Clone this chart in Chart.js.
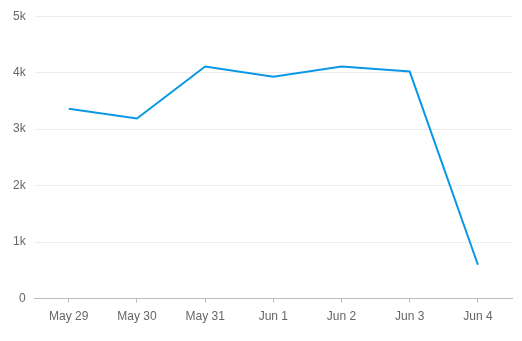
<!DOCTYPE html>
<html>
<head>
<meta charset="utf-8">
<script src="https://cdn.jsdelivr.net/npm/chart.js@4"></script>
<style>
html,body{margin:0;padding:0;background:#fff;}
#wrap{position:relative;width:522px;height:341px;}
</style>
</head>
<body>
<div id="wrap"><canvas id="c" width="522" height="341"></canvas></div>
<script>
const categories = ["May 29","May 30","May 31","Jun 1","Jun 2","Jun 3","Jun 4"];
const seriesValues = [3360, 3190, 4110, 3930, 4110, 4020, 600];
const yTickLabels = ["0","1k","2k","3k","4k","5k"];

new Chart(document.getElementById('c'), {
  type: 'line',
  data: {
    labels: categories,
    datasets: [{
      data: seriesValues,
      borderColor: '#0a98e6',
      borderWidth: 2,
      pointRadius: 0,
      tension: 0,
      fill: false
    }]
  },
  options: {
    responsive: false,
    animation: false,
    layout: { padding: { left: 4, right: 10, top: 10, bottom: 10 } },
    plugins: { legend: { display: false }, tooltip: { enabled: false } },
    scales: {
      x: {
        offset: true,
        grid: { display: true, drawOnChartArea: false, drawTicks: true, tickLength: 4, color: '#bbbbbb', offset: false },
        border: { display: true, color: '#bbbbbb' },
        ticks: { color: '#666666', font: { family: 'Liberation Sans, Arial', size: 12 }, padding: 7, maxRotation: 0 }
      },
      y: {
        min: 0, max: 5000,
        afterBuildTicks: (axis) => { axis.ticks = yTickLabels.map((t, i) => ({ value: i * 1000 })); },
        grid: { color: '#ececec', drawTicks: false },
        border: { display: false },
        ticks: {
          color: '#666666', font: { family: 'Liberation Sans, Arial', size: 12 }, padding: 9,
          callback: (v, i) => yTickLabels[i]
        }
      }
    }
  }
});
</script>
</body>
</html>
